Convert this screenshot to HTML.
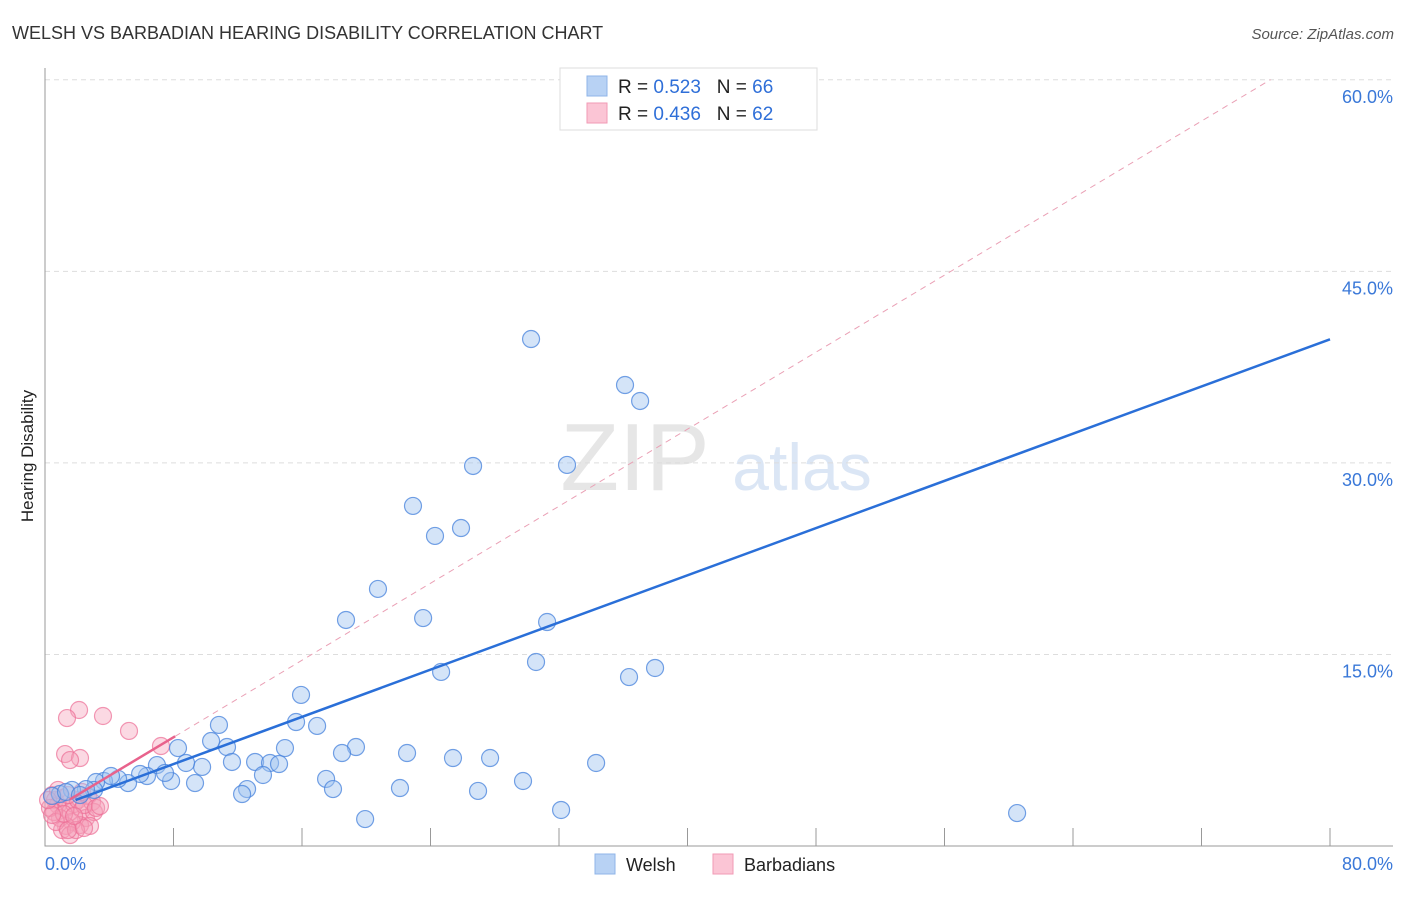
<!DOCTYPE html>
<html><head><meta charset="utf-8"><style>
body{margin:0;background:#fff;font-family:"Liberation Sans",sans-serif}
svg text{font-family:"Liberation Sans",sans-serif}
</style></head><body>
<svg id="chart" width="1406" height="892" xmlns="http://www.w3.org/2000/svg">
<text x="12" y="39" font-size="18" fill="#333">WELSH VS BARBADIAN HEARING DISABILITY CORRELATION CHART</text>
<text x="1394" y="39" font-size="15" fill="#555" text-anchor="end" font-style="italic">Source: ZipAtlas.com</text>
<text transform="translate(33,456) rotate(-90)" font-size="17" fill="#222" text-anchor="middle">Hearing Disability</text>
<g>
<text x="635" y="490" font-size="96" fill="#e6e6e6" text-anchor="middle" font-family="Liberation Serif,serif">ZIP</text>
<text x="802" y="490" font-size="66" fill="#dbe6f5" text-anchor="middle">atlas</text>
</g>
<g id="grid"></g>
<g id="axes"></g>
<g id="marks"></g>
<g>
<rect x="560" y="68" width="257" height="62" fill="#fff" stroke="#ddd"/>
<rect x="587" y="76" width="20" height="20" fill="#b8d2f4" stroke="#8fb4e8"/>
<rect x="587" y="103" width="20" height="20" fill="#fbc5d5" stroke="#f29ab5"/>
<text x="618" y="93" font-size="19" fill="#222">R = <tspan fill="#2f6fd8">0.523</tspan>&#160;&#160;&#160;N = <tspan fill="#2f6fd8">66</tspan></text>
<text x="618" y="120" font-size="19" fill="#222">R = <tspan fill="#2f6fd8">0.436</tspan>&#160;&#160;&#160;N = <tspan fill="#2f6fd8">62</tspan></text>
</g>
<g>
<rect x="595" y="854" width="20" height="20" fill="#b8d2f4" stroke="#8fb4e8"/>
<text x="626" y="871" font-size="18" fill="#222">Welsh</text>
<rect x="713" y="854" width="20" height="20" fill="#fbc5d5" stroke="#f29ab5"/>
<text x="744" y="871" font-size="18" fill="#222">Barbadians</text>
</g>
</svg>
<script>
const yTicks=[15,30,45,60];
const yTickLabels=["15.0%","30.0%","45.0%","60.0%"];
const xTicks=[8,16,24,32,40,48,56,64,72,80];
const welshX=[30.26,36.11,37.05,26.65,32.50,22.91,25.90,24.28,20.73,18.74,23.54,31.26,30.57,37.98,36.36,24.66,15.94,10.83,15.63,16.94,10.34,11.33,8.28,19.36,18.49,22.54,14.94,13.08,11.64,14.01,14.57,9.78,27.71,25.40,34.31,8.78,13.57,17.50,29.76,9.34,7.85,6.97,6.35,7.47,5.92,5.17,4.55,3.67,3.18,4.11,3.05,2.55,1.68,0.93,0.44,12.58,12.27,17.93,22.10,26.96,32.13,19.93,60.52,1.31,2.18,40.04];
const welshY=[39.70,36.10,34.85,29.76,29.84,26.63,24.90,24.28,20.13,17.70,17.85,17.54,14.41,13.94,13.23,13.63,11.83,9.48,9.71,9.40,8.22,7.75,7.67,7.75,7.28,7.28,7.67,6.58,6.58,6.50,6.42,6.19,6.89,6.89,6.50,6.50,5.56,5.25,5.09,4.93,5.09,6.34,5.48,5.72,5.64,4.93,5.25,5.09,5.01,5.48,4.39,4.46,4.39,4.07,3.92,4.46,4.07,4.46,4.54,4.31,2.82,2.11,2.58,4.23,3.99,59.98];
const barbX=[2.12,1.37,3.61,5.23,7.22,1.25,2.18,1.56,0.44,0.62,0.81,1.06,1.31,1.56,1.81,2.05,2.30,2.68,2.93,2.55,2.18,1.68,1.31,0.93,0.56,0.31,1.06,1.56,3.05,2.80,1.93,0.81,1.43,2.43,3.18,0.68,1.18,2.30,0.44,3.42,1.43,2.43,0.19,1.81];
const barbY=[10.65,10.02,10.18,9.01,7.83,7.20,6.89,6.73,3.99,3.60,3.21,3.76,2.98,2.66,3.29,3.60,2.82,3.92,3.45,2.19,1.64,1.88,1.57,2.19,2.66,2.98,1.25,0.86,2.66,1.57,1.25,4.39,3.99,3.21,2.98,1.88,2.51,4.23,2.43,3.13,1.25,1.41,3.60,2.35];
const welshTrend=[1.9,80,2.72,0.462]; // xStart,xEnd,intercept,slope
const barbTrend=[1.56,8.1,2.48,0.754];
const barbDash=[8.1,76.3];
const NS="http://www.w3.org/2000/svg";
const X=v=>45+v*16.0625, Y=v=>846-v*12.77;
function mk(t,a,p){const e=document.createElementNS(NS,t);for(const k in a)e.setAttribute(k,a[k]);p.appendChild(e);return e;}
const grid=document.getElementById('grid'),axes=document.getElementById('axes'),marks=document.getElementById('marks');
yTicks.forEach((t,i)=>{
 const l=mk('line',{x1:45,x2:1393,y1:Y(t),y2:Y(t),stroke:'#ddd','stroke-dasharray':'5,4'},grid);
 
 
 const tx=mk('text',{x:1393,y:Y(t)+23,'font-size':18,fill:'#3a78d8','text-anchor':'end'},axes);
 tx.textContent=yTickLabels[i];
 
 
});
const ax=mk('path',{d:'M45 68 V846 H1393',fill:'none',stroke:'#999'},axes);


xTicks.forEach(t=>{
 const l=mk('line',{x1:X(t),x2:X(t),y1:828,y2:846,stroke:'#999'},axes);
 
 
});
const x0=mk('text',{x:45,y:870,'font-size':18,fill:'#3a78d8'},axes);x0.textContent='0.0%';


const x1=mk('text',{x:1393,y:870,'font-size':18,fill:'#3a78d8','text-anchor':'end'},axes);x1.textContent='80.0%';


const dl=mk('line',{x1:X(barbDash[0]),y1:Y(barbTrend[2]+barbTrend[3]*barbDash[0]),x2:X(barbDash[1]),y2:Y(barbTrend[2]+barbTrend[3]*barbDash[1]),stroke:'#eaa0b5','stroke-dasharray':'6,5','stroke-width':1},marks);


for(let i=0;i<barbX.length;i++){
 const c=mk('circle',{cx:X(barbX[i]),cy:Y(barbY[i]),r:8.5,fill:'rgba(246,160,185,0.4)',stroke:'rgba(236,110,150,0.7)','stroke-width':1.2},marks);
 
 
}
for(let i=0;i<welshX.length;i++){
 const c=mk('circle',{cx:X(welshX[i]),cy:Y(welshY[i]),r:8.5,fill:'rgba(160,195,240,0.45)',stroke:'rgba(70,130,220,0.75)','stroke-width':1.2},marks);
 
 
}
const wl=mk('line',{x1:X(welshTrend[0]),y1:Y(welshTrend[2]+welshTrend[3]*welshTrend[0]),x2:X(welshTrend[1]),y2:Y(welshTrend[2]+welshTrend[3]*welshTrend[1]),stroke:'#2a6fd8','stroke-width':2.5},marks);


const pl=mk('line',{x1:X(barbTrend[0]),y1:Y(barbTrend[2]+barbTrend[3]*barbTrend[0]),x2:X(barbTrend[1]),y2:Y(barbTrend[2]+barbTrend[3]*barbTrend[1]),stroke:'#e8628c','stroke-width':2.5},marks);


</script>
</body></html>
